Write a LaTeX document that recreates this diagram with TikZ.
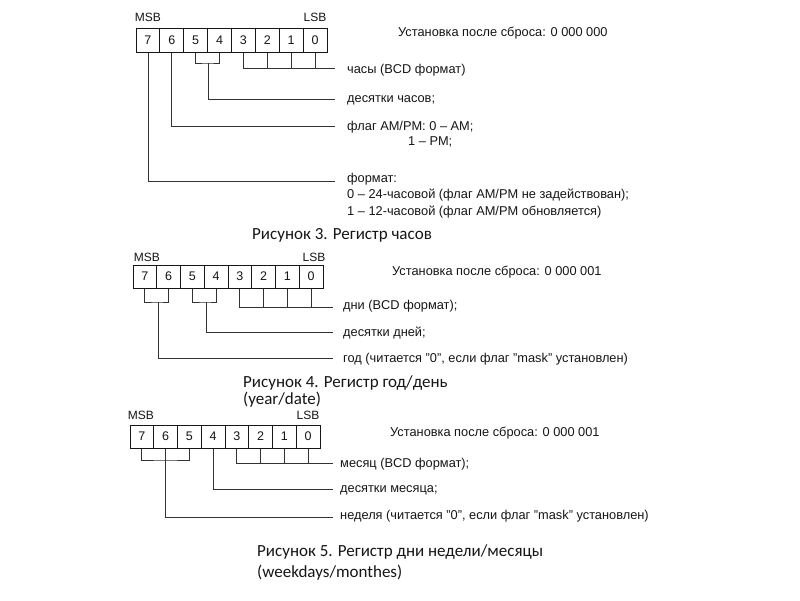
\documentclass[tikz,border=0pt]{standalone}
\usepackage{fontspec}
\setmainfont{Liberation Sans}
\newfontfamily\capfont{Carlito}
\definecolor{ink}{HTML}{161616}
\definecolor{wirec}{HTML}{333333}
\begin{document}
\begin{tikzpicture}[x=1pt,y=-1pt,
  cell/.style={draw=ink, line width=1pt, inner sep=0pt, text=ink, font=\fontsize{12.5}{14}\selectfont},
  wire/.style={draw=wirec, line width=0.85pt},
  lbl/.style={anchor=west, inner sep=0pt, text=ink, font=\fontsize{12.8}{15}\selectfont},
  sb/.style={inner sep=0pt, text=ink, font=\fontsize{12}{14}\selectfont},
  capt/.style={anchor=west, inner sep=0pt, text=ink, font=\capfont\fontsize{17}{20}\selectfont}]
\useasboundingbox[fill=white] (0,0) rectangle (800,600);

% ---------------- Figure 3 (hours) ----------------
\foreach \b [count=\i from 0] in {7,6,5,4,3,2,1,0}
  \node[cell, minimum width=23.875pt, minimum height=24pt] (a\b) at ({136+23.875*(\i+0.5)},40) {\b};
\node[sb] (amsb) at (148,17) {MSB};
\node[sb] (alsb) at (315,17) {LSB};
\node[lbl] (ahead) at (398,33) {Установка после сброса: 0 000 000};
\coordinate (ah0) at (335,68);
\coordinate (am54) at (208,63);
\coordinate (ah1) at (335,99);
\coordinate (ah2) at (335,126);
\coordinate (ah3) at (335,181);
\draw[wire] (a3.south) |- (ah0);
\foreach \b in {2,1,0} \draw[wire] (a\b.south) -- (a\b.south |- ah0);
\draw[wire] (a5.south) |- (am54) -| (a4.south);
\draw[wire] (am54) |- (ah1);
\draw[wire] (a6.south) |- (ah2);
\draw[wire] (a7.south) |- (ah3);
\node[lbl] (at0) at (347,70) {часы (BCD формат)};
\node[lbl] (at1) at (347,100) {десятки часов;};
\node[lbl] (at2) at (347,127) {флаг AM/PM: 0 – AM;};
\node[lbl] (at2b) at (408,142) {1 – PM;};
\node[lbl] (at3) at (347,179) {формат:};
\node[lbl] (at3b) at (347,195) {0 – 24-часовой (флаг AM/PM не задействован);};
\node[lbl] (at3c) at (347,212) {1 – 12-часовой (флаг AM/PM обновляется)};
\node[capt] (acap) at (252,235) {Рисунок 3. Регистр часов};

% ---------------- Figure 4 (year/date) ----------------
\node[capt] (bcap) at (243,383) {Рисунок 4. Регистр год/день};
\node[capt] (bcap2) at (243,400) {(year/date)};
\foreach \b [count=\i from 0] in {7,6,5,4,3,2,1,0}
  \node[cell, minimum width=23.75pt, minimum height=23pt] (b\b) at ({133+23.75*(\i+0.5)},276.5) {\b};
\node[sb] (bmsb) at (147,257) {MSB};
\node[sb] (blsb) at (314,257) {LSB};
\node[lbl] (bhead) at (392,272) {Установка после сброса: 0 000 001};
\coordinate (bm76) at (158,302);
\coordinate (bm54) at (206,302);
\coordinate (bh0) at (333,307);
\coordinate (bh1) at (333,332);
\coordinate (bh2) at (333,358);
\draw[wire] (b3.south) |- (bh0);
\foreach \b in {2,1,0} \draw[wire] (b\b.south) -- (b\b.south |- bh0);
\draw[wire] (b5.south) |- (bm54) -| (b4.south);
\draw[wire] (bm54) |- (bh1);
\draw[wire] (b7.south) |- (bm76) -| (b6.south);
\draw[wire] (bm76) |- (bh2);
\node[lbl] (bt0) at (343,306) {дни (BCD формат);};
\node[lbl] (bt1) at (343,333) {десятки дней;};
\node[lbl] (bt2) at (343,359) {год (читается "0", если флаг "mask" установлен)};

% ---------------- Figure 5 (weekdays/months) ----------------
\foreach \b [count=\i from 0] in {7,6,5,4,3,2,1,0}
  \node[cell, minimum width=23.75pt, minimum height=23pt] (c\b) at ({130+23.75*(\i+0.5)},436.5) {\b};
\node[sb] (cmsb) at (141,415) {MSB};
\node[sb] (clsb) at (308,415) {LSB};
\node[lbl] (chead) at (390,433) {Установка после сброса: 0 000 001};
\coordinate (ck) at (0,460);
\coordinate (ch0) at (333,463);
\coordinate (ch1) at (333,489);
\coordinate (ch2) at (333,517);
\draw[wire] (c7.south) |- (ck -| c6.south) -| (c5.south);
\draw[wire] (c6.south) |- (ch2);
\draw[wire] (c4.south) |- (ch1);
\draw[wire] (c3.south) |- (ch0);
\foreach \b in {2,1,0} \draw[wire] (c\b.south) -- (c\b.south |- ch0);
\node[lbl] (ct0) at (340,464) {месяц (BCD формат);};
\node[lbl] (ct1) at (340,490) {десятки месяца;};
\node[lbl] (ct2) at (340,516) {неделя (читается "0", если флаг "mask" установлен)};
\node[capt] (ccap) at (257,552) {Рисунок 5. Регистр дни недели/месяцы};
\node[capt] (ccap2) at (257,573) {(weekdays/monthes)};
\end{tikzpicture}
\end{document}
